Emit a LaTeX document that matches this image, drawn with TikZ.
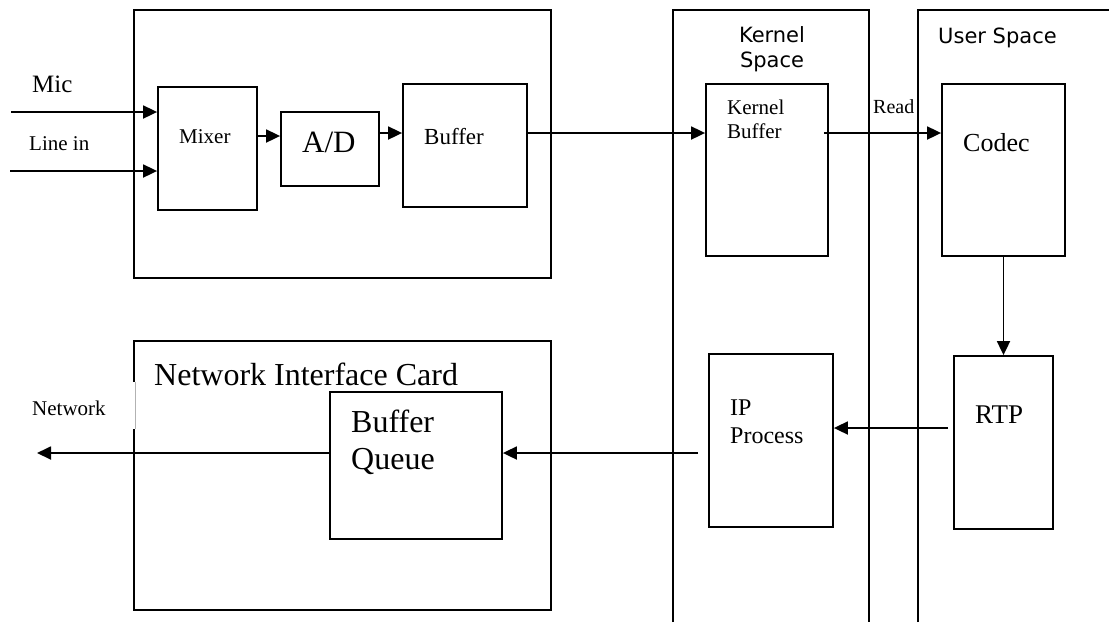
\documentclass[tikz,border=0pt]{standalone}
\usepackage{fontspec}
\setmainfont{Liberation Serif}
\newfontfamily\sansf{DejaVu Sans}
\usetikzlibrary{arrows.meta,fit}
\begin{document}
\begin{tikzpicture}[x=1pt,y=-1pt,
  box/.style={draw, line width=1.8pt, inner sep=0pt},
  region/.style={line width=1.8pt},
  lbl/.style={anchor=base west, inner sep=0pt},
  arr/.style={line width=1.8pt, -{Triangle[length=14pt,width=13pt]}},
  ]
\useasboundingbox (0,0) rectangle (1109,622);
% columns
\draw[region] (673,622) -- (673,10) -- (869,10) -- (869,622);
\draw[region] (918,622) -- (918,10) -- (1109,10);
% boxes
\node[box, fit={(134,10) (551,278)}] (card) {};
\node[box, fit={(158,87) (257,210)}] (mixer) {};
\node[box, fit={(281,112) (379,186)}] (ad) {};
\node[box, fit={(403,84) (527,207)}] (buf) {};
\node[box, fit={(706,84) (828,256)}] (kb) {};
\node[box, fit={(942,84) (1065,256)}] (codec) {};
\node[box, fit={(709,354) (833,527)}] (ip) {};
\node[box, fit={(954,356) (1053,529)}] (rtp) {};
\node[box, fit={(134,341) (551,610)}] (nic) {};
\node[box, fit={(330,392) (502,539)}] (bq) {};
% gap in NIC left edge
\fill[white] (128,382) rectangle (140,429);
\draw[gray!60, line width=0.6pt] (135.5,382) -- (135.5,429);
% texts
\node[lbl, font=\fontsize{25}{28}\selectfont] (tmic) at (32,92) {Mic};
\node[lbl, font=\fontsize{21}{24}\selectfont] (tline) at (29,150) {Line in};
\node[lbl, font=\fontsize{21}{24}\selectfont] (tmixer) at (179,143) {Mixer};
\node[lbl, font=\fontsize{31}{34}\selectfont] (tad) at (302,152) {A/D};
\node[lbl, font=\fontsize{23}{26}\selectfont] (tbuf) at (424,144) {Buffer};
\node[anchor=base, inner sep=0pt, align=center, font=\sansf\fontsize{21}{24.5}\selectfont] (tks) at (772,67) {Kernel\\Space};
\node[lbl, font=\sansf\fontsize{21}{25}\selectfont] (tus) at (938,43) {User Space};
\node[lbl, align=left, font=\fontsize{21}{24}\selectfont] (tkb) at (727,138) {Kernel\\Buffer};
\node[lbl, font=\fontsize{20}{24}\selectfont] (tread) at (873,113) {Read};
\node[lbl, font=\fontsize{26}{30}\selectfont] (tcodec) at (963,151) {Codec};
\node[lbl, align=left, font=\fontsize{24}{28}\selectfont] (tip) at (730,443) {IP\\Process};
\node[lbl, font=\fontsize{27}{30}\selectfont] (trtp) at (975,423) {RTP};
\node[lbl, font=\fontsize{32}{36}\selectfont] (tnic) at (154,385) {Network Interface Card};
\node[lbl, font=\fontsize{21}{24}\selectfont] (tnet) at (32,415) {Network};
\node[lbl, align=left, font=\fontsize{32}{37}\selectfont] (tbq) at (351,469) {Buffer\\Queue};
% free ends
\coordinate (micin) at (11,112);
\coordinate (linein) at (10,171);
\coordinate (ipout) at (698,453);
\coordinate (netout) at (37,453);
% connectors
\draw[arr] (micin) -- ([yshift=36.5pt]mixer.west);
\draw[arr] (linein) -- ([yshift=-22.5pt]mixer.west);
\draw[arr] ([yshift=12.5pt]mixer.east) -- ([yshift=13pt]ad.west);
\draw[arr] ([yshift=16pt]ad.east) -- ([yshift=12.5pt]buf.west);
\draw[arr] ([yshift=12.5pt]buf.east) -- ([yshift=37pt]kb.west);
\draw[arr] ([xshift=-5pt,yshift=37pt]kb.east) -- ([yshift=37pt]codec.west);
\draw[arr] (codec.south) -- (rtp.north);
\draw[arr] ([xshift=-5pt,yshift=14.5pt]rtp.west) -- ([yshift=12.5pt]ip.east);
\draw[arr] (ipout) -- ([yshift=12.5pt]bq.east);
\draw[arr] ([yshift=12.5pt]bq.west) -- (netout);
\end{tikzpicture}
\end{document}
